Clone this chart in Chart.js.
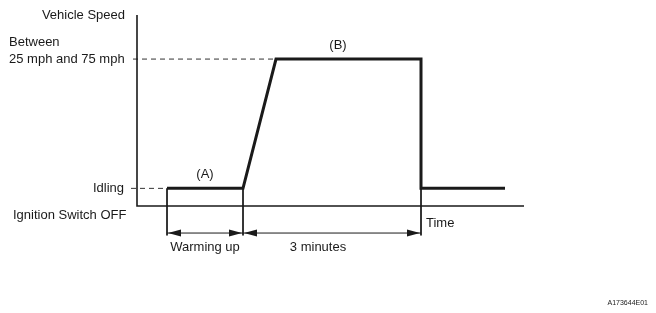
<!DOCTYPE html>
<html>
<head>
<meta charset="utf-8">
<script src="https://cdn.jsdelivr.net/npm/chart.js@4/dist/chart.umd.min.js"></script>
<style>
  html, body { margin: 0; padding: 0; background: #fff; }
  canvas { display: block; }
</style>
</head>
<body>
<canvas id="speedChart" width="656" height="313"></canvas>
<script>
// Drive pattern (time in s, speed in mph)
const timeSec = [30, 106, 139, 284, 284, 368];
const speedMph = [6, 6, 50, 50, 6, 6];
const idleMph = 6;
const cruiseMph = 50;
const timeMax = 387;
const speedMax = 65;

// bracket marks below the time axis
const phaseEdges = [30, 106, 284];
const phaseLabels = ["Warming up", "3 minutes"];
const bracketLevel = -9.2;
const bracketTickEnd = -10;

const FONT = '13px "Liberation Sans", Arial, sans-serif';
const INK = "#1a1a1a";

function drawArrowHead(ctx, x, y, dir) {
  ctx.beginPath();
  ctx.moveTo(x, y);
  ctx.lineTo(x - dir * 13, y - 3.5);
  ctx.lineTo(x - dir * 13, y + 3.5);
  ctx.closePath();
  ctx.fill();
}

const diagramPlugin = {
  id: "diagram",
  afterDatasetsDraw(chart) {
    const { ctx, chartArea, scales } = chart;
    const xs = scales.x;
    const ys = scales.y;
    ctx.save();
    ctx.strokeStyle = INK;
    ctx.fillStyle = INK;

    // axes
    ctx.lineWidth = 1.6;
    ctx.beginPath();
    ctx.moveTo(chartArea.left, chartArea.top);
    ctx.lineTo(chartArea.left, chartArea.bottom);
    ctx.lineTo(chartArea.right, chartArea.bottom);
    ctx.stroke();

    // brackets with arrows
    const ay = ys.getPixelForValue(bracketLevel);
    ctx.lineWidth = 1;
    for (let i = 0; i < phaseEdges.length - 1; i++) {
      const x1 = xs.getPixelForValue(phaseEdges[i]);
      const x2 = xs.getPixelForValue(phaseEdges[i + 1]);
      ctx.beginPath();
      ctx.moveTo(x1, ay);
      ctx.lineTo(x2, ay);
      ctx.stroke();
      drawArrowHead(ctx, x1 + 1, ay, -1);
      drawArrowHead(ctx, x2 - 1, ay, 1);
    }

    // text
    ctx.font = FONT;
    ctx.textBaseline = "middle";
    ctx.textAlign = "right";
    ctx.fillText("Vehicle Speed", chartArea.left - 12, chartArea.top);
    ctx.fillText("Idling", chartArea.left - 13, ys.getPixelForValue(idleMph));
    ctx.textAlign = "left";
    ctx.fillText("Between", 9, ys.getPixelForValue(cruiseMph) - 17);
    ctx.fillText("25 mph and 75 mph", 9, ys.getPixelForValue(cruiseMph));
    ctx.fillText("Ignition Switch OFF", 13, chartArea.bottom + 9);
    ctx.fillText("Time", xs.getPixelForValue(phaseEdges[2]) + 5, chartArea.bottom + 17);

    ctx.textAlign = "center";
    for (let i = 0; i < phaseLabels.length; i++) {
      const mid = (xs.getPixelForValue(phaseEdges[i]) + xs.getPixelForValue(phaseEdges[i + 1])) / 2;
      ctx.fillText(phaseLabels[i], mid + (i === 1 ? -14 : 0), ay + 14);
    }
    ctx.fillText("(A)", xs.getPixelForValue(68), ys.getPixelForValue(idleMph) - 14);
    ctx.fillText("(B)", xs.getPixelForValue(201), ys.getPixelForValue(cruiseMph) - 14);

    ctx.font = '7px "Liberation Sans", Arial, sans-serif';
    ctx.textAlign = "right";
    ctx.fillText("A173644E01", 648, 303);
    ctx.restore();
  },
};

const guideStyle = {
  borderColor: "#333",
  borderWidth: 1,
  borderDash: [5, 4],
  pointRadius: 0,
  clip: false,
};
const tickStyle = {
  borderColor: INK,
  borderWidth: 1,
  pointRadius: 0,
  clip: false,
};

new Chart(document.getElementById("speedChart"), {
  type: "line",
  data: {
    datasets: [
      {
        data: timeSec.map((t, i) => ({ x: t, y: speedMph[i] })),
        borderColor: INK,
        borderWidth: 3,
        borderJoinStyle: "miter",
        pointRadius: 0,
        tension: 0,
        clip: false,
      },
      { ...guideStyle, data: [{ x: -4, y: cruiseMph }, { x: 139, y: cruiseMph }] },
      { ...guideStyle, data: [{ x: -6, y: idleMph }, { x: 30, y: idleMph }] },
      ...phaseEdges.map((t) => ({
        ...tickStyle,
        data: [{ x: t, y: idleMph }, { x: t, y: bracketTickEnd }],
      })),
    ],
  },
  options: {
    responsive: false,
    animation: false,
    devicePixelRatio: 1,
    layout: { padding: { left: 137, right: 132, top: 15, bottom: 107 } },
    plugins: { legend: { display: false }, tooltip: { enabled: false } },
    scales: {
      x: { type: "linear", min: 0, max: timeMax, display: false },
      y: { type: "linear", min: 0, max: speedMax, display: false },
    },
  },
  plugins: [diagramPlugin],
});
</script>
</body>
</html>
